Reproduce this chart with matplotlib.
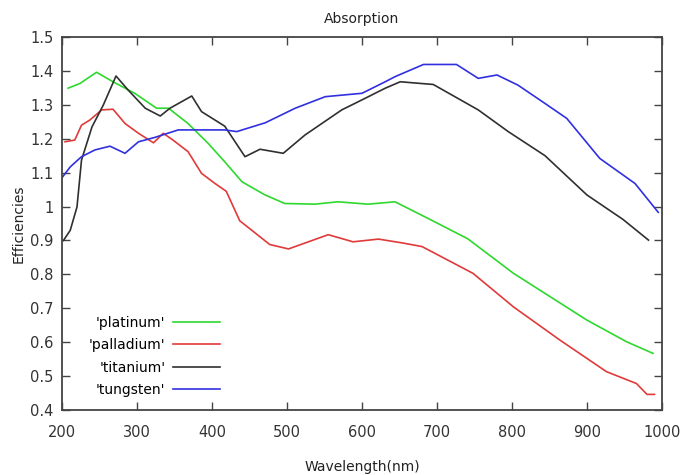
import matplotlib
matplotlib.use("Agg")
from matplotlib import pyplot as plt

# platinum (green)
pt_x = [208, 224, 246, 268, 297, 326, 342, 368, 395, 417, 440, 470, 497, 537,
        568, 608, 644, 688, 741, 802, 900, 953, 988]
pt_y = [1.349, 1.363, 1.396, 1.368, 1.334, 1.29, 1.29, 1.245, 1.186, 1.132,
        1.073, 1.035, 1.009, 1.007, 1.014, 1.007, 1.014, 0.965, 0.905, 0.803,
        0.665, 0.601, 0.567]

# palladium (red)
pd_x = [204, 217, 226, 237, 253, 268, 284, 302, 322, 335, 348, 368, 386, 404,
        419, 437, 477, 502, 555, 588, 622, 653, 680, 748, 802, 864, 926, 966,
        980, 990]
pd_y = [1.191, 1.196, 1.24, 1.255, 1.285, 1.287, 1.245, 1.216, 1.188, 1.216,
        1.196, 1.162, 1.098, 1.068, 1.045, 0.958, 0.888, 0.875, 0.917, 0.896,
        0.904, 0.893, 0.882, 0.803, 0.704, 0.606, 0.513, 0.478, 0.446, 0.446]

# titanium (black)
ti_x = [202, 211, 220, 226, 240, 255, 272, 288, 311, 331, 344, 373, 386, 417,
        444, 464, 495, 524, 573, 604, 631, 651, 695, 755, 795, 844, 900, 948,
        982]
ti_y = [0.90, 0.93, 0.999, 1.137, 1.235, 1.299, 1.385, 1.344, 1.29, 1.267,
        1.29, 1.326, 1.28, 1.237, 1.147, 1.169, 1.157, 1.211, 1.285, 1.319,
        1.349, 1.368, 1.36, 1.285, 1.221, 1.15, 1.034, 0.962, 0.901]

# tungsten (blue)
w_x = [200, 211, 226, 244, 264, 284, 302, 324, 355, 417, 433, 471, 511, 551,
       600, 631, 644, 682, 726, 755, 780, 808, 844, 873, 917, 964, 995]
w_y = [1.085, 1.117, 1.147, 1.167, 1.178, 1.157, 1.191, 1.204, 1.226, 1.226,
       1.221, 1.247, 1.29, 1.324, 1.334, 1.368, 1.383, 1.419, 1.419, 1.378,
       1.388, 1.358, 1.304, 1.26, 1.142, 1.068, 0.983]

series = [
    (pt_x, pt_y, "'platinum'", "#2ed82e"),
    (pd_x, pd_y, "'palladium'", "#e03a3a"),
    (ti_x, ti_y, "'titanium'", "#303030"),
    (w_x, w_y, "'tungsten'", "#3030e0"),
]

xticks = [200, 300, 400, 500, 600, 700, 800, 900, 1000]
yticks = [0.4, 0.5, 0.6, 0.7, 0.8, 0.9, 1, 1.1, 1.2, 1.3, 1.4, 1.5]

plt.rcParams["font.family"] = ["DejaVu Sans"]
plt.rcParams["font.size"] = 10

fig = plt.figure(figsize=(6.84, 4.75), dpi=100)
ax = fig.add_axes([62 / 684, 65 / 475, 600 / 684, 373 / 475])

for x, y, label, color in series:
    ax.plot(x, y, color=color, lw=1.2, label=label)

ax.set_xlim(200, 1000)
ax.set_ylim(0.4, 1.5)
ax.set_xticks(xticks)
ax.set_yticks(yticks)
ax.set_yticklabels([f"{v:g}" for v in yticks])
ax.tick_params(direction="in", length=6, width=1, color="#444444",
               top=True, right=True, labelsize=10.5, labelcolor="#333333")
ax.tick_params(axis="x", pad=11)
ax.tick_params(axis="y", pad=6)
for s in ax.spines.values():
    s.set_color("#444444")
    s.set_linewidth(1.3)

ax.set_title("Absorption", fontsize=10, color="#222222", pad=10)
ax.set_xlabel("Wavelength(nm)", fontsize=10, color="#222222", labelpad=14)
ax.set_ylabel("Efficiencies", fontsize=10, color="#222222", labelpad=3)

ax.legend(loc="lower left", bbox_to_anchor=(0.045, 0.035), frameon=False,
          markerfirst=False, handlelength=3.4, handletextpad=0.5,
          labelspacing=0.6, borderpad=0, borderaxespad=0, fontsize=10)

fig.savefig("out.png", dpi=100)
